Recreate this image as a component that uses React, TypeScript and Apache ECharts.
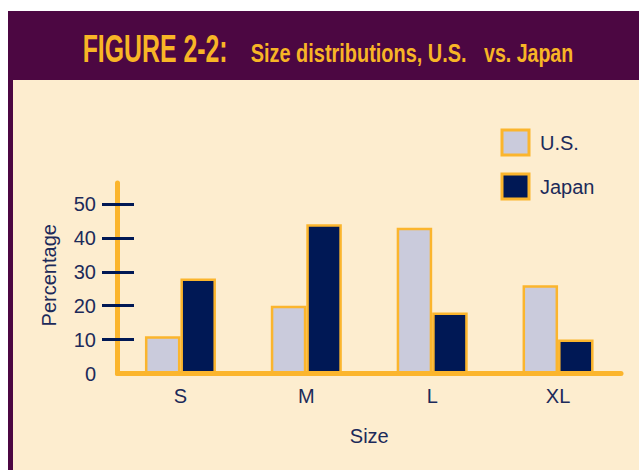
import React, { useEffect, useRef } from "react";
import * as echarts from "echarts";

const categories = ["S", "M", "L", "XL"];
const usValues = [11, 20, 43, 26];
const japanValues = [28, 44, 18, 10];
const yLabelValues = [0, 10, 20, 30, 40, 50];
const yTickValues = [10, 20, 30, 40, 50];
const titleMain = "FIGURE 2-2:";
const titleSub1 = "Size distributions, U.S.";
const titleSub2 = "vs. Japan";

const PURPLE = "#4C0742";
const CREAM = "#FDEDCF";
const GOLD = "#F8B526";
const ORANGE = "#FBB52D";
const NAVY_TEXT = "#1C2A5A";
const JAPAN = "#001855";
const US = "#CACBDC";
const FONT = "'Liberation Sans', Arial, sans-serif";

function measure(text: string, font: string): number {
  const c = document.createElement("canvas").getContext("2d");
  if (!c) return 1;
  c.font = font;
  return c.measureText(text).width || 1;
}

function titleText(text: string, x: number, y: number, width: number, size: number) {
  const w = measure(text, `bold ${size}px 'Liberation Sans'`);
  return {
    type: "text",
    x,
    y,
    scaleX: width / w,
    style: {
      text,
      fill: GOLD,
      font: `bold ${size}px 'Liberation Sans', Arial, sans-serif`,
      align: "left",
      verticalAlign: "middle",
    },
  };
}

export default function App() {
  const ref = useRef<HTMLDivElement>(null);
  useEffect(() => {
    if (!ref.current) return;
    const chart = echarts.init(ref.current, undefined, { renderer: "svg" });
    chart.setOption({
      animation: false,
      backgroundColor: "transparent",
      textStyle: { fontFamily: FONT },
      graphic: [
        titleText(titleMain, 82.7, 48.5, 145, 38),
        titleText(titleSub1, 250.7, 52.5, 216, 26.5),
        titleText(titleSub2, 484, 52.5, 89.3, 26.5),
      ],
      legend: {
        orient: "vertical",
        left: 500.5,
        top: 128.5,
        padding: 0,
        itemWidth: 27,
        itemHeight: 25,
        itemGap: 16,
        icon: "rect",
        itemStyle: { borderColor: ORANGE, borderWidth: 3 },
        textStyle: { color: NAVY_TEXT, fontSize: 20, fontFamily: FONT, padding: [0, 0, 0, 6] },
        data: ["U.S.", "Japan"],
      },
      grid: { left: 117.5, right: 18, top: 183, bottom: 96.5, containLabel: false },
      xAxis: {
        type: "category",
        data: categories,
        axisLine: { show: true, lineStyle: { color: ORANGE, width: 5 } },
        axisTick: { show: false },
        axisLabel: { color: NAVY_TEXT, fontSize: 20, margin: 12, fontFamily: FONT },
        name: "Size",
        nameLocation: "middle",
        nameGap: 52,
        nameTextStyle: { color: NAVY_TEXT, fontSize: 20, fontFamily: FONT },
      },
      yAxis: [
        {
          type: "value",
          min: 0,
          max: 56.2,
          interval: 10,
          axisLine: { show: true, lineStyle: { color: ORANGE, width: 5 } },
          axisTick: { show: false },
          splitLine: { show: false },
          axisLabel: {
            color: NAVY_TEXT,
            fontSize: 20,
            margin: 21.5,
            fontFamily: FONT,
            customValues: yLabelValues,
          },
          name: "Percentage",
          nameLocation: "middle",
          nameGap: 58.5,
          nameRotate: 90,
          nameTextStyle: { color: NAVY_TEXT, fontSize: 20, fontFamily: FONT, padding: [0, 0, 0, 6] },
        },
        {
          type: "value",
          position: "left",
          offset: -16.5,
          min: 0,
          max: 56.2,
          interval: 10,
          axisLine: { show: false },
          axisTick: {
            show: true,
            length: 32,
            lineStyle: { color: JAPAN, width: 3 },
            customValues: yTickValues,
          },
          axisLabel: { show: false },
          splitLine: { show: false },
        },
      ],
      series: [
        {
          name: "U.S.",
          type: "bar",
          data: usValues,
          barWidth: 35.5,
          barGap: "0%",
          itemStyle: { color: US, borderColor: ORANGE, borderWidth: 2.5 },
        },
        {
          name: "Japan",
          type: "bar",
          data: japanValues,
          barWidth: 35.5,
          barGap: "0%",
          itemStyle: { color: JAPAN, borderColor: ORANGE, borderWidth: 2.5 },
        },
      ],
    });
    return () => chart.dispose();
  }, []);

  return (
    <div style={{ position: "absolute", left: 0, top: 0, width: 639, height: 470, background: "#fff", overflow: "hidden" }}>
      <div style={{ position: "absolute", left: 8, top: 11, right: 0, bottom: 0, background: PURPLE }} />
      <div style={{ position: "absolute", left: 13, top: 80, right: 0, bottom: 0, background: CREAM }} />
      <div ref={ref} style={{ position: "absolute", left: 0, top: 0, width: 639, height: 470 }} />
    </div>
  );
}
